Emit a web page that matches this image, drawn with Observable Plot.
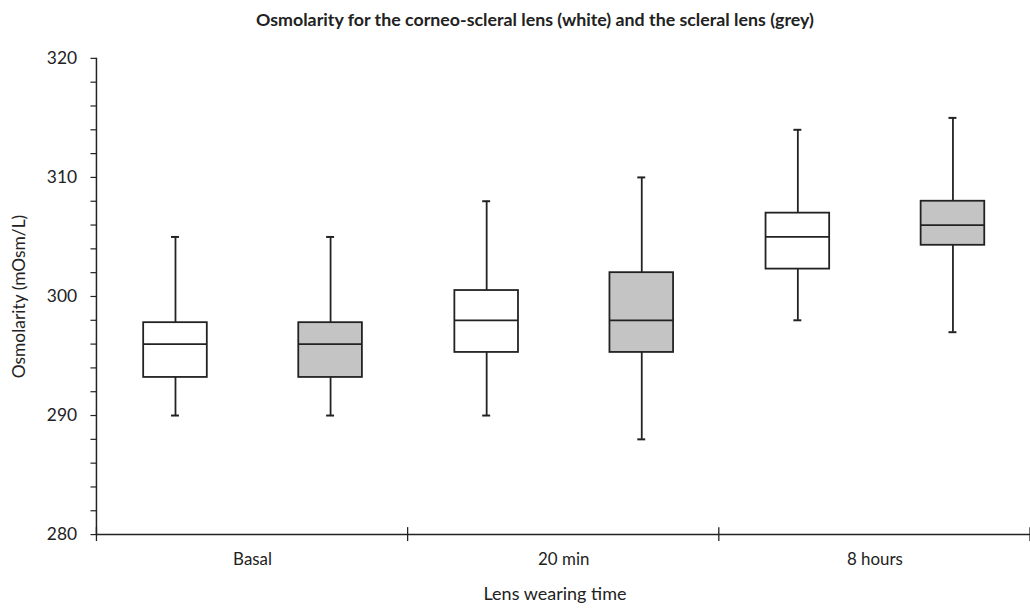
<!DOCTYPE html>
<html><head><meta charset="utf-8">
<script src="https://cdn.jsdelivr.net/npm/d3@7"></script>
<script src="https://cdn.jsdelivr.net/npm/@observablehq/plot@0.6"></script>
<style>
html,body{margin:0;padding:0;background:#fff;overflow:hidden;}
body{width:1030px;height:608px;font-family:Lato,"Open Sans",sans-serif;color:#222;}
#title{box-sizing:border-box;width:1030px;height:36px;line-height:38px;padding-left:40px;text-align:center;font-weight:bold;font-size:17.8px;}
#xlabel{box-sizing:border-box;width:1030px;height:26px;line-height:28px;padding-left:80px;text-align:center;font-size:18px;}
#chart svg{display:block;}
</style></head><body>
<div id="title">Osmolarity for the corneo-scleral lens (white) and the scleral lens (grey)</div>
<div id="chart"></div>
<div id="xlabel">Lens wearing time</div>
<script>
// Categories
const groups = ["Basal", "20 min", "8 hours"];
const lenses = ["corneo-scleral", "scleral"];
// One entry per box
const boxGroup = ["Basal", "Basal", "20 min", "20 min", "8 hours", "8 hours"];
const boxLens = ["corneo-scleral", "scleral", "corneo-scleral", "scleral", "corneo-scleral", "scleral"];
const lowWhisker = [290, 290, 290, 288, 298, 297];
const q1 = [293.2, 293.2, 295.3, 295.3, 302.3, 304.3];
const median = [296, 296, 298, 298, 305, 306];
const q3 = [297.8, 297.8, 300.5, 302, 307, 308];
const highWhisker = [305, 305, 308, 310, 314, 315];
// Axis ticks
const yTicks = [280, 290, 300, 310, 320];
const yMinorTicks = [282, 284, 286, 288, 292, 294, 296, 298, 302, 304, 306, 308, 312, 314, 316, 318];
const lensFill = ["#ffffff", "#c4c4c4"];

const rows = boxGroup.map((g, i) => ({
  group: g, lens: boxLens[i], min: lowWhisker[i], q1: q1[i],
  median: median[i], q3: q3[i], max: highWhisker[i]
}));

const ink = "#222";
const plot = Plot.plot({
  width: 1036, height: 546,
  marginLeft: 97, marginRight: 0, marginTop: 22, marginBottom: 45,
  style: {fontFamily: "Lato, 'Open Sans', sans-serif", fontSize: "17px", color: ink, background: "#fff"},
  fx: {domain: groups, padding: 0, label: null},
  x: {domain: lenses, paddingInner: 0.59, paddingOuter: 0.295, axis: null},
  y: {domain: [280, 320]},
  color: {domain: lenses, range: lensFill},
  marks: [
    Plot.axisY({ticks: yMinorTicks, tickSize: 6, tickFormat: () => "", label: null, stroke: ink, strokeWidth: 1.2}),
    Plot.axisY({ticks: yTicks, tickSize: 6, tickPadding: 14, stroke: ink, strokeWidth: 1.2, fontSize: 17.5,
      label: "Osmolarity (mOsm/L)", labelAnchor: "center", labelOffset: 85, labelArrow: "none"}),
    Plot.axisFx({anchor: "bottom", tickSize: 0, tickPadding: 19, label: null, fontSize: 17}),
    Plot.ruleY([280], {stroke: ink, strokeWidth: 1.5}),
    Plot.ruleX(rows, {fx: "group", x: "lens", y1: "min", y2: "q1", stroke: ink, strokeWidth: 1.8}),
    Plot.ruleX(rows, {fx: "group", x: "lens", y1: "q3", y2: "max", stroke: ink, strokeWidth: 1.8}),
    Plot.tickY(rows, {fx: "group", x: "lens", y: "min", stroke: ink, strokeWidth: 2, insetLeft: 28, insetRight: 28}),
    Plot.tickY(rows, {fx: "group", x: "lens", y: "max", stroke: ink, strokeWidth: 2, insetLeft: 28, insetRight: 28}),
    Plot.barY(rows, {fx: "group", x: "lens", y1: "q1", y2: "q3", fill: "lens", stroke: ink, strokeWidth: 1.8}),
    Plot.tickY(rows, {fx: "group", x: "lens", y: "median", stroke: ink, strokeWidth: 1.8})
  ]
});
document.getElementById("chart").appendChild(plot);

// y axis line and group divider ticks, positioned with the plot's own scales
const svg = d3.select(plot);
const fxS = plot.scale("fx"), yS = plot.scale("y");
const y0 = yS.apply(280), y1 = yS.apply(320);
const left = fxS.apply(groups[0]);
const bounds = groups.map(g => fxS.apply(g)).concat([fxS.apply(groups[groups.length - 1]) + fxS.bandwidth]);
const g = svg.append("g").attr("stroke", ink);
g.append("line").attr("x1", left).attr("x2", left).attr("y1", y1).attr("y2", y0).attr("stroke-width", 1.5);
g.selectAll("line.div").data(bounds).join("line").attr("class", "div")
  .attr("x1", d => d).attr("x2", d => d).attr("y1", y0 - 7).attr("y2", y0 + 7).attr("stroke-width", 1.3);
</script>
</body></html>
